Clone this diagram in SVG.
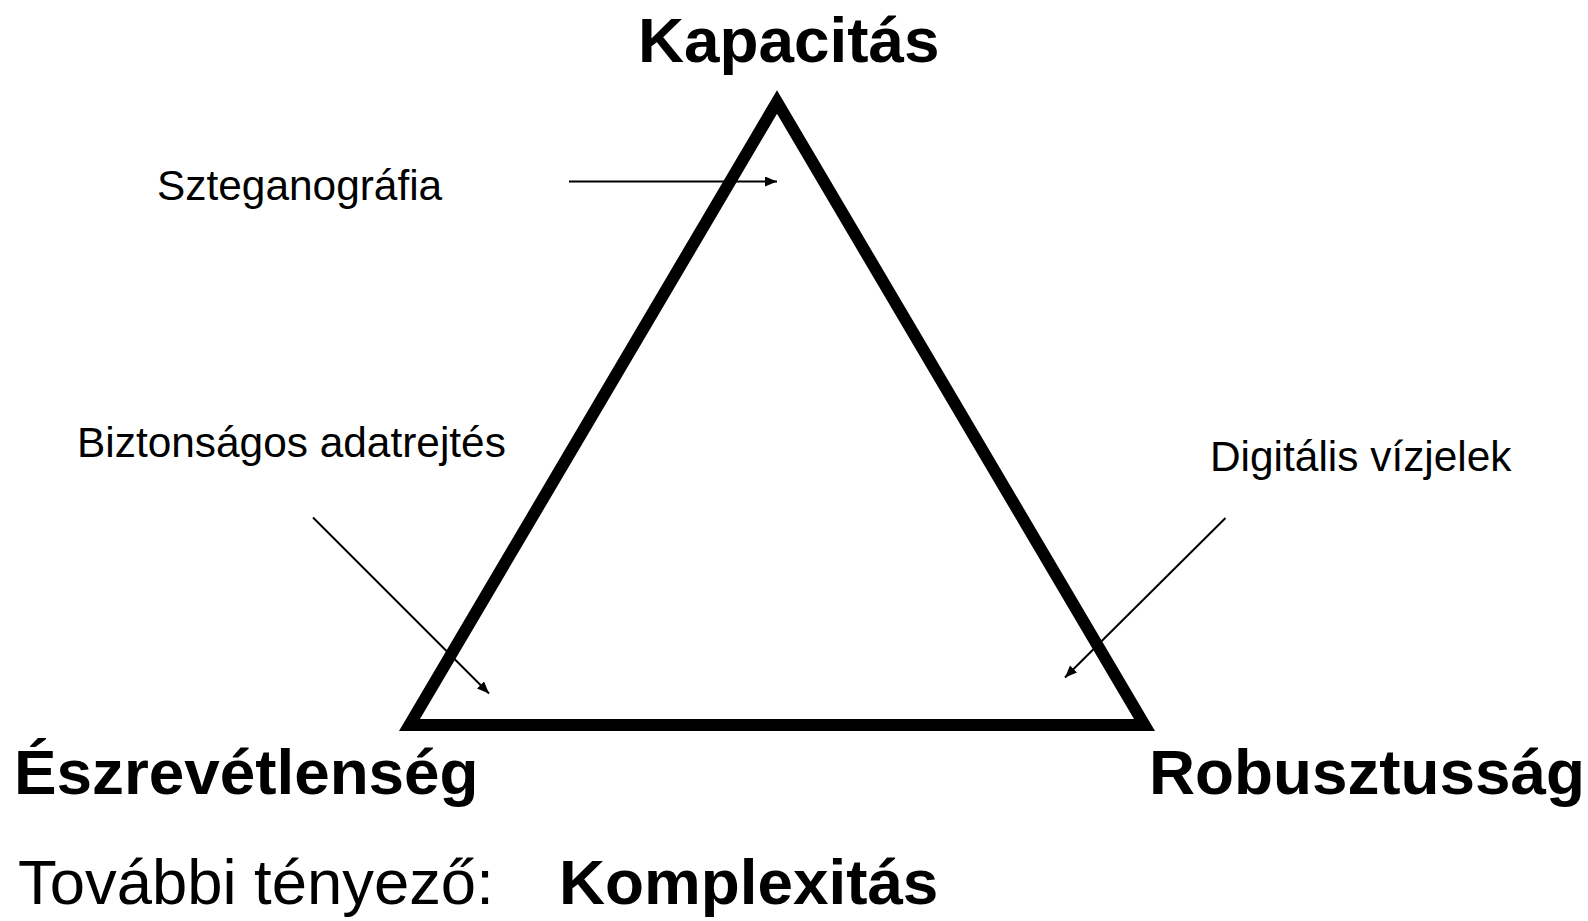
<svg xmlns="http://www.w3.org/2000/svg" width="1588" height="921" viewBox="0 0 1588 921">
  <style>
    .big { font-family: "Liberation Sans", Arial, sans-serif; font-weight: bold; font-size: 63.8px; fill: #000; }
    .bigr { font-family: "Liberation Sans", Arial, sans-serif; font-size: 63.4px; fill: #000; }
    .lbl { font-family: "Liberation Sans", Arial, sans-serif; font-size: 42.4px; fill: #000; }
    .conn { stroke: #000; stroke-width: 2; fill: none; }
  </style>
  <defs>
    <marker id="arr" viewBox="0 0 12 10" refX="12" refY="5" markerWidth="12" markerHeight="10" markerUnits="userSpaceOnUse" orient="auto">
      <path d="M0,0 L12,5 L0,10 Z" fill="#000"/>
    </marker>
  </defs>
  <rect width="1588" height="921" fill="#fff"/>
  <g id="triangle">
    <polygon points="409.5,725 777,102 1144.5,725" fill="none" stroke="#000" stroke-width="12" stroke-linejoin="miter" stroke-miterlimit="10"/>
  </g>
  <g id="connectors">
    <line class="conn" x1="569" y1="181.5" x2="777" y2="181.5" marker-end="url(#arr)"/>
    <line class="conn" x1="313" y1="517.5" x2="489" y2="693.5" marker-end="url(#arr)"/>
    <line class="conn" x1="1225.5" y1="518" x2="1065" y2="677.5" marker-end="url(#arr)"/>
  </g>
  <g id="node-kapacitas"><text class="big" x="638" y="62">Kapacitás</text></g>
  <g id="node-eszrevetlenseg"><text class="big" x="14" y="794">Észrevétlenség</text></g>
  <g id="node-robusztussag"><text class="big" x="1149" y="794">Robusztusság</text></g>
  <g id="label-szteganografia"><text class="lbl" x="157" y="200">Szteganográfia</text></g>
  <g id="label-biztonsagos"><text class="lbl" x="77" y="457">Biztonságos adatrejtés</text></g>
  <g id="label-digitalis"><text class="lbl" x="1210" y="471">Digitális vízjelek</text></g>
  <g id="footer">
    <text class="bigr" x="18" y="904">További tényező:</text>
    <text class="big" x="559" y="904">Komplexitás</text>
  </g>
</svg>
